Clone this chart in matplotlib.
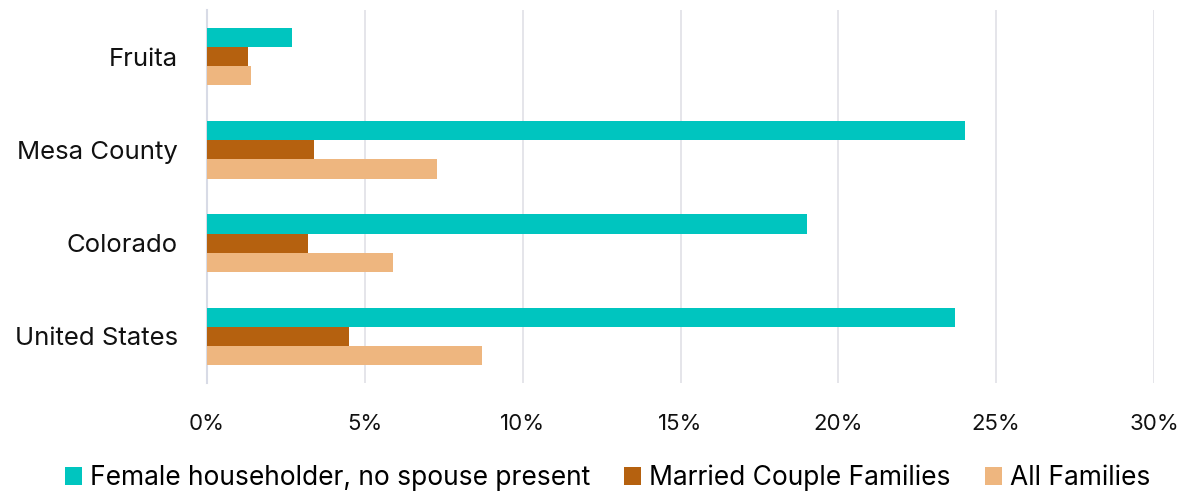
import numpy as np
import matplotlib.pyplot as plt
from matplotlib.ticker import FuncFormatter

# poverty rates by family type (percent)
places = ["Fruita", "Mesa County", "Colorado", "United States"]
female_hh = [2.7, 24.0, 19.0, 23.7]
married = [1.3, 3.4, 3.2, 4.5]
all_families = [1.4, 7.3, 5.9, 8.7]

series = ["Female householder, no spouse present", "Married Couple Families", "All Families"]
colors = ["#00C5BF", "#B5610F", "#EEB67F"]

plt.rcParams['font.family'] = ['Inter', 'DejaVu Sans']

fig = plt.figure(figsize=(11.87, 4.93), dpi=100)
ax = fig.add_axes([0.1744, 0.223, 0.9722 - 0.1744, 0.757])

y = np.arange(len(places))
h = 0.205
for i, (vals, lab, c) in enumerate(zip([female_hh, married, all_families], series, colors)):
    ax.barh(y + (i - 1) * h, vals, height=h, color=c, label=lab, zorder=3)

ax.set_ylim(len(places) - 0.5, -0.5)
ax.set_xlim(0, 30)
ax.set_xticks(np.arange(0, 31, 5))
ax.xaxis.set_major_formatter(FuncFormatter(lambda v, p: f"{v:.0f}%"))
ax.set_yticks(y)
ax.set_yticklabels(places)

ax.grid(axis='x', color='#e3e3e8', linewidth=1.3, zorder=0)
for s in ['top', 'right', 'bottom']:
    ax.spines[s].set_visible(False)
ax.spines['left'].set_color('#d8dbe6')
ax.spines['left'].set_linewidth(1.5)
ax.tick_params(axis='both', length=0, colors='#111111')
ax.tick_params(axis='x', pad=22, labelsize=16)
ax.tick_params(axis='y', pad=21, labelsize=18.5)

fig.legend(loc='center', bbox_to_anchor=(0.512, 1 - 478 / 493), ncol=3, frameon=False,
           fontsize=19, handlelength=0.64, handleheight=0.64, handletextpad=0.31,
           columnspacing=1.3, borderpad=0)

fig.savefig('out.png', dpi=100)
